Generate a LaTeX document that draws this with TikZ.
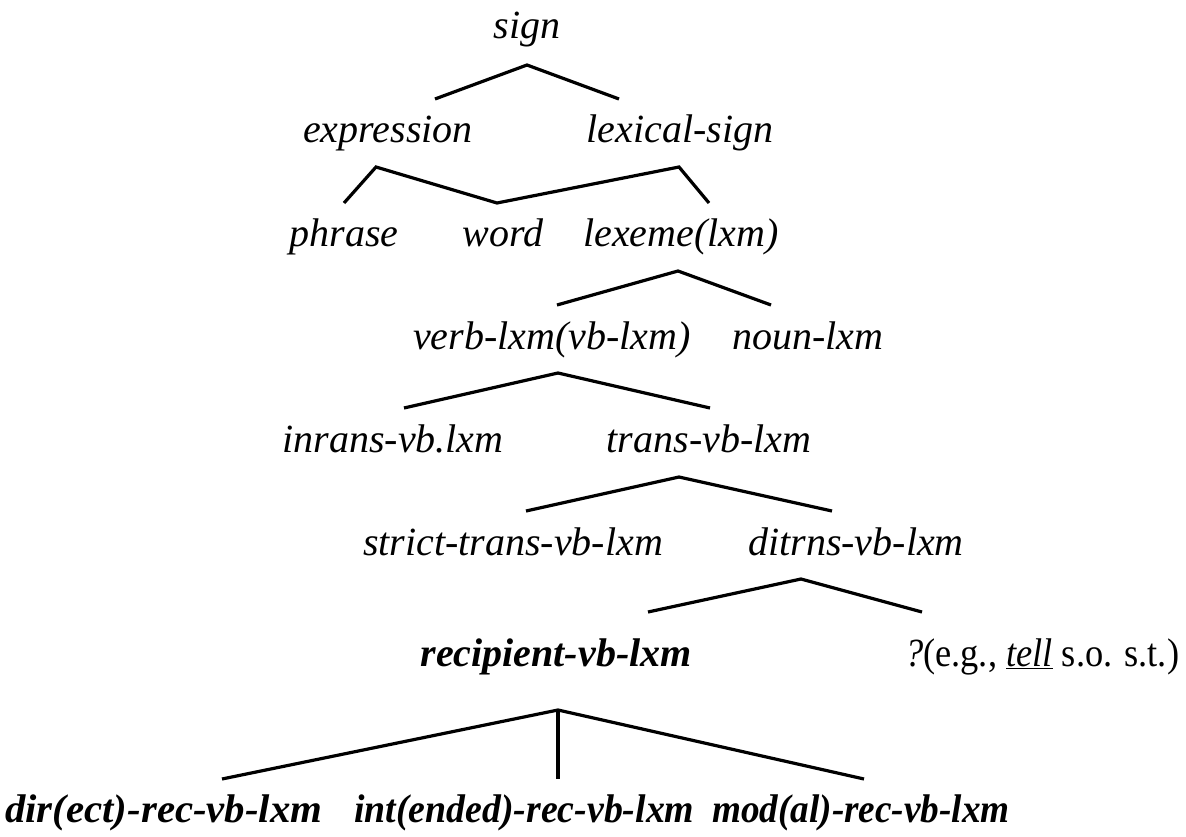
\documentclass[tikz,border=0pt]{standalone}
\usepackage{fontspec}
\setmainfont{Liberation Serif}
\begin{document}
\begin{tikzpicture}[x=1pt,y=-1pt,
  lab/.style={anchor=base,inner sep=0pt,font=\fontsize{40}{48}\selectfont\itshape},
  blab/.style={anchor=base west,inner sep=0pt,font=\fontsize{40}{48}\selectfont\bfseries\itshape},
  plab/.style={anchor=base west,inner sep=0pt,font=\fontsize{40}{48}\selectfont},
  branch/.style={draw=black,line width=3.2pt,line cap=butt,line join=miter}]
\useasboundingbox (0,0) rectangle (1186,837);
% labels
\node[lab] (sign) at (527,39) {sign};
\node[lab] (expr) at (388,143) {expression};
\node[lab] (lexs) at (680,143) {lexical-sign};
\node[lab] (phrase) at (344,247) {phrase};
\node[lab] (word) at (503,247) {word};
\node[lab] (lexeme) at (681,247) {lexeme(lxm)};
\node[lab] (verb) at (552,349) {verb-lxm(vb-lxm)};
\node[lab] (noun) at (808,349) {noun-lxm};
\node[lab] (inrans) at (393,452) {inrans-vb.lxm};
\node[lab] (trans) at (709,452) {trans-vb-lxm};
\node[lab] (strict) at (513,555) {strict-trans-vb-lxm};
\node[lab] (ditrns) at (856,555) {ditrns-vb-lxm};
\node[blab,anchor=base] (recip) at (556,666) {recipient-vb-lxm};
\node[plab] (eg) at (905,666) {\scalebox{0.91}[1]{\textit{?}(e.g., \underline{\textit{tell}} s.o. s.t.)}};
\node[blab] (dir) at (5,822) {\scalebox{1.02}[1]{dir(ect)-rec-vb-lxm}};
\node[blab] (int) at (354,822) {\scalebox{0.945}[1]{int(ended)-rec-vb-lxm}};
\node[blab] (mod) at (712,822) {\scalebox{0.93}[1]{mod(al)-rec-vb-lxm}};
% branch points
\coordinate (sign-t) at (527,65);
\coordinate (expr-b) at (435,99);
\coordinate (lexs-b) at (619,99);
\coordinate (expr-t) at (376,167);
\coordinate (lexs-t) at (679,167);
\coordinate (phrase-b) at (344,203);
\coordinate (word-b) at (497,203);
\coordinate (lexeme-b) at (709,203);
\coordinate (lexeme-t) at (678,271);
\coordinate (verb-b) at (557,305);
\coordinate (noun-b) at (771,305);
\coordinate (verb-t) at (558,373);
\coordinate (inrans-b) at (404,408);
\coordinate (trans-b) at (710,408);
\coordinate (trans-t) at (679,477);
\coordinate (strict-b) at (526,511);
\coordinate (ditrns-b) at (832,511);
\coordinate (ditrns-t) at (801,579);
\coordinate (recip-b) at (648,612);
\coordinate (eg-b) at (922,612);
\coordinate (recip-t) at (558,710);
\coordinate (dir-b) at (222,779);
\coordinate (int-b) at (558,779);
\coordinate (mod-b) at (864,779);
% connectors
\draw[branch] (expr-b) -- (sign-t) -- (lexs-b);
\draw[branch] (phrase-b) -- (expr-t) -- (word-b) -- (lexs-t) -- (lexeme-b);
\draw[branch] (verb-b) -- (lexeme-t) -- (noun-b);
\draw[branch] (inrans-b) -- (verb-t) -- (trans-b);
\draw[branch] (strict-b) -- (trans-t) -- (ditrns-b);
\draw[branch] (recip-b) -- (ditrns-t) -- (eg-b);
\draw[branch] (dir-b) -- (recip-t) -- (mod-b);
\draw[branch] (recip-t) -- (int-b);
\end{tikzpicture}
\end{document}
